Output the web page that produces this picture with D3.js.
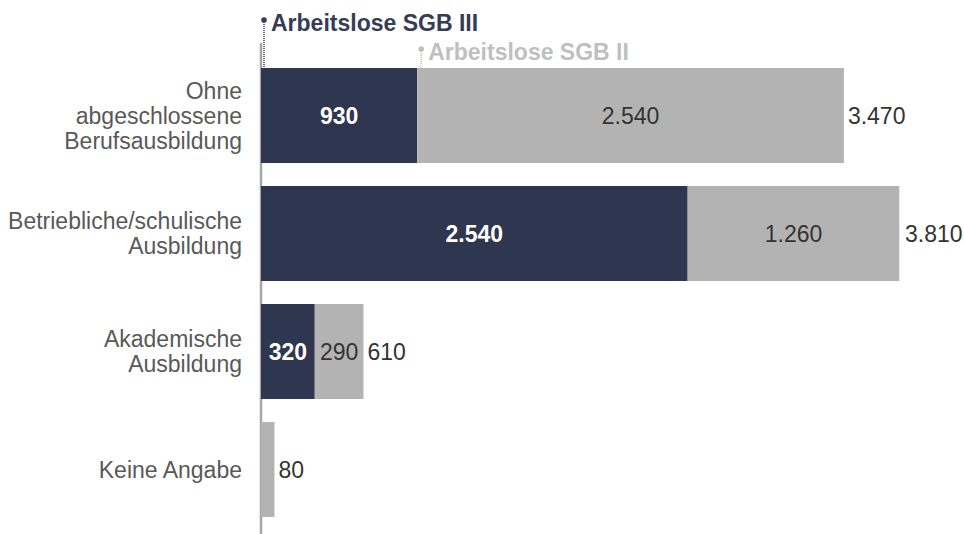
<!DOCTYPE html>
<html>
<head>
<meta charset="utf-8">
<script src="https://cdn.jsdelivr.net/npm/d3@7"></script>
<style>
  body { margin: 0; background: #fff; }
  svg { display: block; font-family: "Liberation Sans", Arial, sans-serif; }
</style>
</head>
<body>
<svg width="964" height="534"></svg>
<script>
// данные графика
const categories = ["Ohne abgeschlossene Berufsausbildung", "Betriebliche/schulische Ausbildung",
                    "Akademische Ausbildung", "Keine Angabe"];
const categoryLines = [["Ohne", "abgeschlossene", "Berufsausbildung"],
                       ["Betriebliche/schulische", "Ausbildung"],
                       ["Akademische", "Ausbildung"],
                       ["Keine Angabe"]];
const seriesNames = ["Arbeitslose SGB III", "Arbeitslose SGB II"];
const sgb3 = [930, 2540, 320, 0];
const sgb2 = [2540, 1260, 290, 80];
const totals = [3470, 3810, 610, 80];

const colors = ["#2e3650", "#b3b3b3"];
const fontSize = 23;

const de = d3.formatLocale({decimal: ",", thousands: ".", grouping: [3], currency: ["", " €"]});
const fmt = de.format(",d");

const svg = d3.select("svg");

const scX = d3.scaleLinear().domain([0, 3810]).range([261, 901]);
const scY = d3.scaleBand().domain(categories).range([56.5, 528.5])
              .paddingInner(0.195).paddingOuter(0.0975);

// ось
svg.append("line")
   .attr("x1", 261).attr("x2", 261)
   .attr("y1", 43).attr("y2", 534)
   .attr("stroke", "#a6a6a6").attr("stroke-width", 2.5);

// подписи категорий
categories.forEach((c, i) => {
  const lines = categoryLines[i];
  const lh = 25;
  const cy = scY(c) + scY.bandwidth() / 2;
  const t = svg.append("text")
     .attr("text-anchor", "end")
     .attr("font-size", fontSize)
     .attr("fill", "#595959");
  lines.forEach((l, j) => {
    t.append("tspan")
     .attr("x", 242)
     .attr("y", cy + (j - (lines.length - 1) / 2) * lh + 8)
     .text(l);
  });
});

// столбцы
const series = [sgb3, sgb2];
categories.forEach((c, i) => {
  let acc = 0;
  series.forEach((s, k) => {
    const v = s[i];
    const x0 = scX(acc), x1 = scX(acc + v);
    acc += v;
    if (v <= 0) return;
    svg.append("rect")
       .attr("x", x0).attr("y", scY(c))
       .attr("width", x1 - x0).attr("height", scY.bandwidth())
       .attr("fill", colors[k]);
    const txt = fmt(v);
    if (x1 - x0 > txt.length * 12.5 + 6) {
      svg.append("text")
         .attr("x", (x0 + x1) / 2)
         .attr("y", scY(c) + scY.bandwidth() / 2 + 8)
         .attr("text-anchor", "middle")
         .attr("font-size", fontSize)
         .attr("font-weight", k === 0 ? "bold" : "normal")
         .attr("fill", k === 0 ? "#fff" : "#333")
         .text(txt);
    }
  });
  svg.append("text")
     .attr("x", scX(totals[i]) + 4)
     .attr("y", scY(c) + scY.bandwidth() / 2 + 8)
     .attr("font-size", fontSize)
     .attr("fill", "#333")
     .text(fmt(totals[i]));
});

// легенда над первым столбцом
const legendX = [scX(0) + 3, scX(sgb3[0]) + 4];
const legendY = [20, 49];
const legendColors = ["#353c55", "#bfbfbf"];
seriesNames.forEach((n, k) => {
  svg.append("line")
     .attr("x1", legendX[k]).attr("x2", legendX[k])
     .attr("y1", legendY[k]).attr("y2", scY(categories[0]))
     .attr("stroke", legendColors[k]).attr("stroke-width", 1.5)
     .attr("stroke-dasharray", "1,1");
  svg.append("circle")
     .attr("cx", legendX[k]).attr("cy", legendY[k]).attr("r", 2.8)
     .attr("fill", legendColors[k]);
  svg.append("text")
     .attr("x", legendX[k] + 7).attr("y", legendY[k] + 10.5)
     .attr("font-size", fontSize).attr("font-weight", "bold")
     .attr("fill", legendColors[k])
     .text(n);
});
</script>
</body>
</html>
